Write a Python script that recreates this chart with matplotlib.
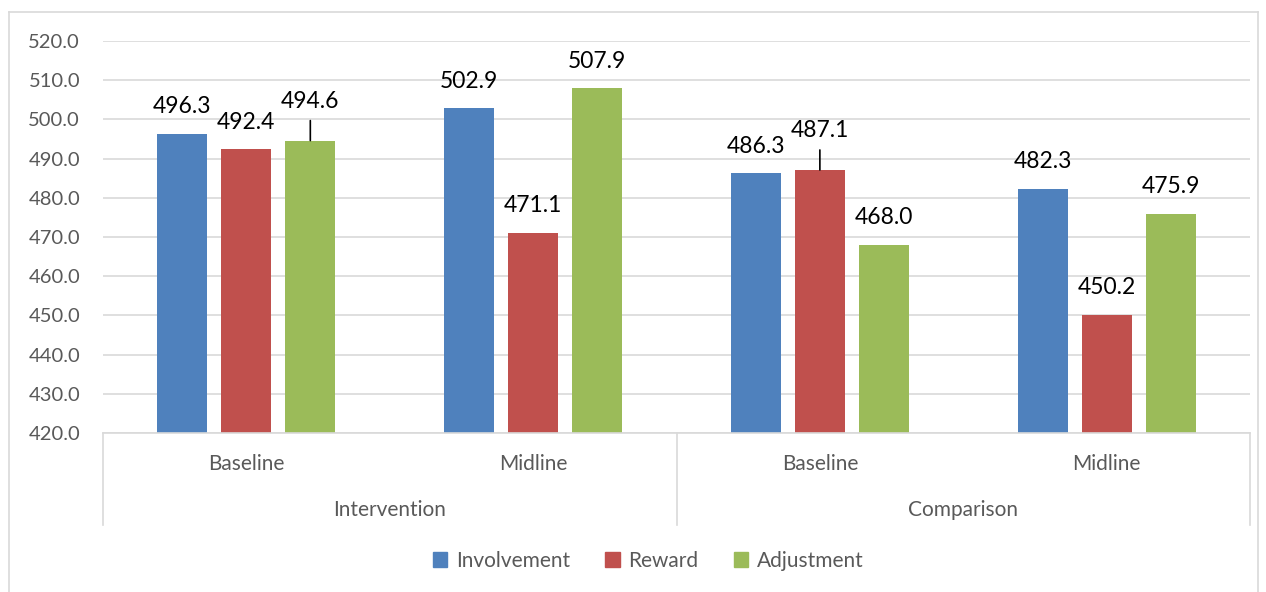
import matplotlib
matplotlib.use("Agg")
import matplotlib.pyplot as plt
from matplotlib.lines import Line2D
from matplotlib.patches import Patch

plt.rcParams['font.family'] = ['Lato', 'DejaVu Sans']

groups = ["Intervention", "Comparison"]
rounds = ["Baseline", "Midline"]
series = ["Involvement", "Reward", "Adjustment"]
involvement = [496.3, 502.9, 486.3, 482.3]
reward = [492.4, 471.1, 487.1, 450.2]
adjustment = [494.6, 507.9, 468.0, 475.9]
colors = ["#4f81bd", "#c0504d", "#9bbb59"]

# labels lifted above their bars with a leader line: (series index, category index)
lifted = {(2, 0), (1, 2)}

W, H = 1266, 592
fig = plt.figure(figsize=(W / 100, H / 100), dpi=100)
ax = fig.add_axes([103 / W, 1 - 433 / H, (1250 - 103) / W, (433 - 41) / H])

grid_c = "#d9d9d9"
label_fs, tick_fs = 16.5, 15
values = [involvement, reward, adjustment]
n_cat = len(involvement)
pitch, width = 0.223, 0.174
for si, vals in enumerate(values):
    xs = [i + 0.5 + (si - 1) * pitch for i in range(n_cat)]
    ax.bar(xs, [v - 420 for v in vals], bottom=420, width=width,
           color=colors[si], zorder=3, label=series[si])
    for ci, (x, v) in enumerate(zip(xs, vals)):
        if (si, ci) in lifted:
            ax.annotate(f"{v:.1f}", (x, v), xytext=(0, 39), textcoords="offset pixels",
                        ha="center", va="center", fontsize=label_fs, color="black", zorder=5)
            ax.annotate("", (x, v), xytext=(0, 20), textcoords="offset pixels",
                        arrowprops=dict(arrowstyle="-", color="black", lw=1.2,
                                        shrinkA=0, shrinkB=0), zorder=5)
        else:
            ax.annotate(f"{v:.1f}", (x, v), xytext=(0, 27), textcoords="offset pixels",
                        ha="center", va="center", fontsize=label_fs, color="black", zorder=5)

ax.set_xlim(0, n_cat)
ax.set_ylim(420, 520)
ax.set_yticks(range(420, 521, 10))
ax.set_yticklabels([f"{t:.1f}" for t in range(420, 521, 10)])
ax.tick_params(axis="y", length=0, labelsize=14.5, labelcolor="#595959", pad=16.5)
ax.set_xticks([])
ax.grid(axis="y", color=grid_c, lw=1.2, zorder=0)
for s in ax.spines.values():
    s.set_visible(False)

# multi-level category axis drawn below the plot area
trans = ax.get_xaxis_transform()
ax.plot([0, n_cat], [0, 0], transform=trans, color=grid_c, lw=1.2, clip_on=False, zorder=4)
depth = (525 - 433) / (433 - 41)
for xv in [0, 2, 4]:
    ax.plot([xv, xv], [0, -depth], transform=trans, color=grid_c, lw=1.2, clip_on=False)
for i in range(n_cat):
    ax.text(i + 0.5, -(464 - 433) / (433 - 41), rounds[i % 2], transform=trans,
            ha="center", va="center", fontsize=tick_fs, color="#595959")
for g, name in enumerate(groups):
    ax.text(2 * g + 1, -(510 - 433) / (433 - 41), name, transform=trans,
            ha="center", va="center", fontsize=tick_fs, color="#595959")

# chart frame
for xs_, ys_ in [([9, 9], [12, H + 5]), ([9, 1258], [12, 12]), ([1258, 1258], [12, H + 5])]:
    fig.add_artist(Line2D([x / W for x in xs_], [1 - y / H for y in ys_],
                          color=grid_c, lw=1.2))

handles = [Patch(color=c, label=s) for c, s in zip(colors, series)]
leg = fig.legend(handles=handles, loc="center", bbox_to_anchor=(648 / W, 1 - 561 / H),
                 ncol=3, frameon=False, fontsize=tick_fs, handlelength=0.7, handleheight=0.7,
                 handletextpad=0.4, columnspacing=1.7)
for t in leg.get_texts():
    t.set_color("#595959")

fig.savefig("out.png", dpi=100)
